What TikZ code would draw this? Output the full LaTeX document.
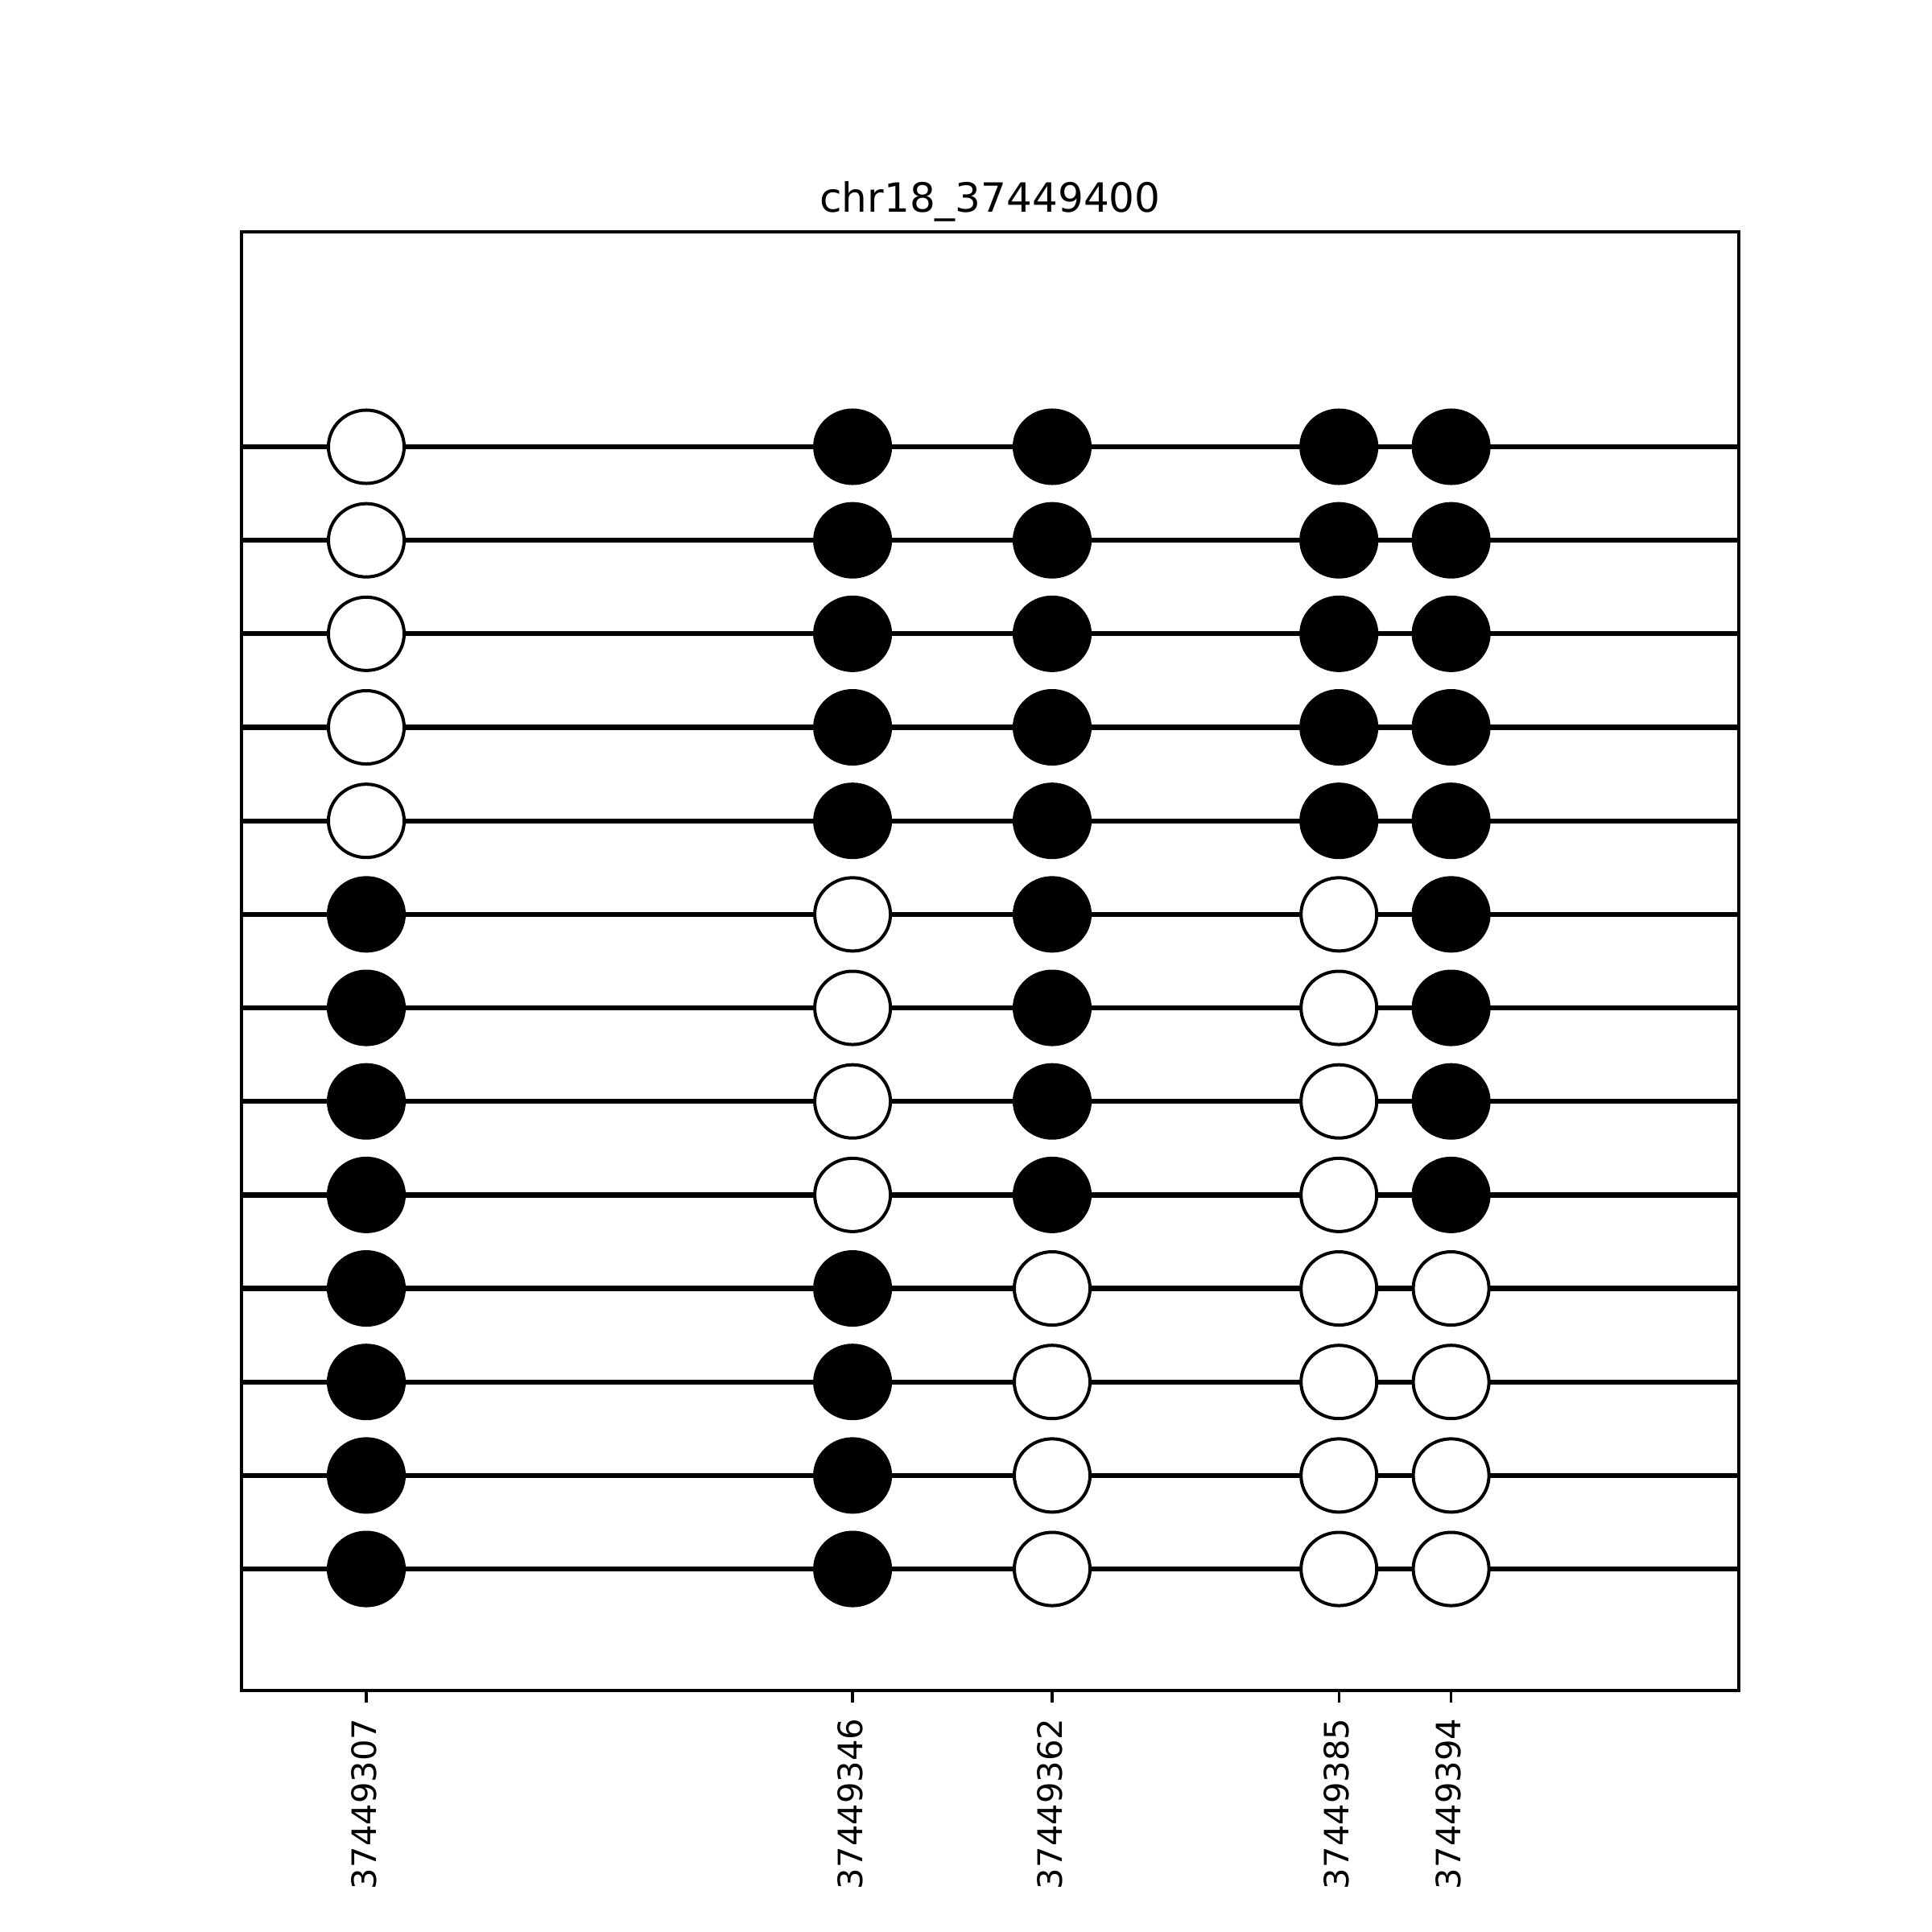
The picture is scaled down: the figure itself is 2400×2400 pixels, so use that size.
\documentclass[tikz,border=0pt]{standalone}
\usepackage{fontspec}
\setmainfont{DejaVu Sans}
\usetikzlibrary{shapes.geometric}
\begin{document}
\begin{tikzpicture}[x=0.01cm,y=-0.01cm,
  dot/.style={ellipse, inner sep=0pt, minimum width=0.94cm, minimum height=0.91cm, line width=0.04cm, draw=black},
  on/.style={dot, fill=black},
  off/.style={dot, fill=white},
  readline/.style={line width=0.0625cm, black},
  framebox/.style={line width=0.0333cm, black},
  ticklab/.style={rotate=90, anchor=base east, inner sep=0pt, font=\fontsize{11.86pt}{14pt}\selectfont},
  titlelab/.style={anchor=base, inner sep=0pt, font=\fontsize{14.23pt}{17pt}\selectfont}]
\useasboundingbox (0,0) rectangle (2400,2400);
\fill[white] (0,0) rectangle (2400,2400);
% reads (horizontal lines)
\foreach \k in {1,...,13} {
  \pgfmathsetmacro\yy{555+(\k-1)*116.17}
  \coordinate (L\k) at (300,\yy);
  \coordinate (R\k) at (2160,\yy);
  \draw[readline] (L\k) -- (R\k);
}
% frame
\coordinate (FTL) at (300,288);
\coordinate (FBR) at (2160,2100);
\draw[framebox] (FTL) rectangle (FBR);
% circles
\foreach \x/\sts [count=\c] in {
  455/{off,off,off,off,off,on,on,on,on,on,on,on,on},
  1059.1/{on,on,on,on,on,off,off,off,off,on,on,on,on},
  1307/{on,on,on,on,on,on,on,on,on,off,off,off,off},
  1663.2/{on,on,on,on,on,off,off,off,off,off,off,off,off},
  1802.6/{on,on,on,on,on,on,on,on,on,off,off,off,off}} {
  \foreach \st [count=\k] in \sts {
    \pgfmathsetmacro\yy{555+(\k-1)*116.17}
    \node[\st] (d\k-\c) at (\x,\yy) {};
  }
}
% ticks and labels
\foreach \x/\lab [count=\c] in {455/37449307, 1059.1/37449346, 1307/37449362, 1663.2/37449385, 1802.6/37449394} {
  \coordinate (tk\c) at (\x,2100);
  \coordinate (te\c) at (\x,2114.6);
  \draw[framebox] (tk\c) -- (te\c);
  \node[ticklab] (tl\c) at (\x+12,2134) {\lab};
}
% title
\node[titlelab] (title) at (1230,263.3) {chr18\_37449400};
\end{tikzpicture}
\end{document}
